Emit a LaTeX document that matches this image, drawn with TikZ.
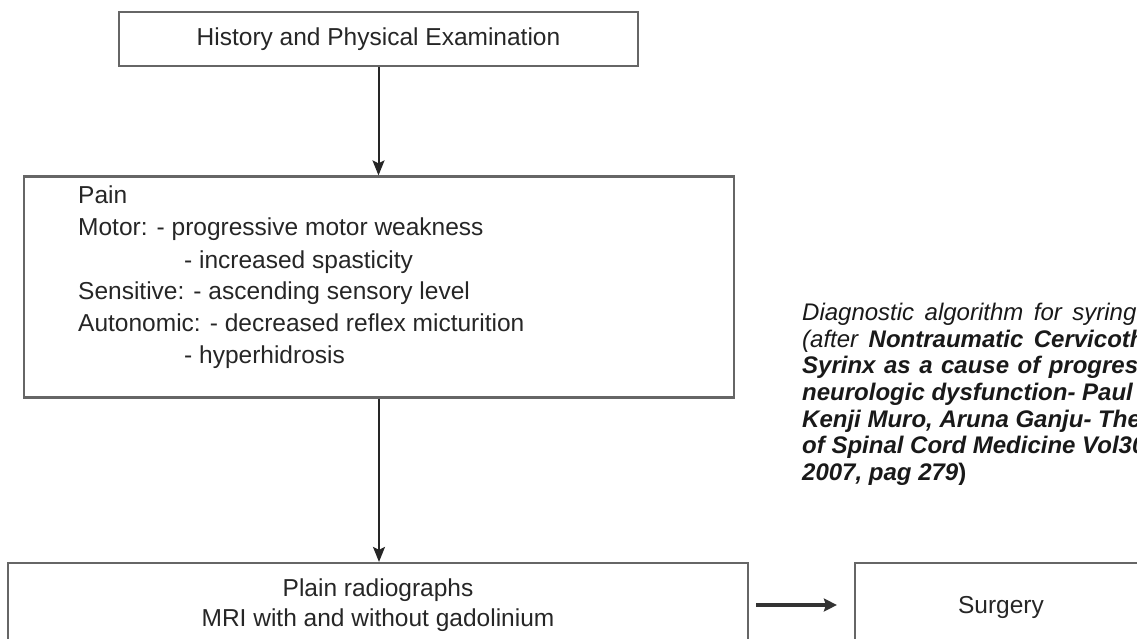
\documentclass[tikz,border=0pt]{standalone}
\usepackage{fontspec}
\setmainfont{Liberation Sans}
\usetikzlibrary{arrows.meta}
\newcommand\wsp{\hspace{10.5pt}}
\newcommand\wspb{\hspace{8.5pt}}
\begin{document}
\begin{tikzpicture}[x=1pt,y=-1pt,
  boxst/.style={draw=black!60, line width=2.2pt, inner sep=0pt},
  txtst/.style={font=\fontsize{24.5pt}{30pt}\selectfont, text=black!85, inner sep=0pt},
  symline/.style={txtst, anchor=west, text height=0.72em, text depth=0.22em},
  captxt/.style={font=\fontsize{24pt}{27pt}\selectfont\itshape, text=black!90, inner sep=0pt, anchor=west, text height=0.72em, text depth=0.22em},
  arrst/.style={draw=black!85, line width=2pt, -{Stealth[length=15pt,width=12pt,inset=3pt]}},
  harrst/.style={draw=black!80, line width=3.5pt, -{Stealth[length=13pt,width=13pt,inset=2pt]}}]
\path[use as bounding box, clip] (0,0) rectangle (1137,639);

% boxes
\node[boxst, txtst, minimum width=519pt, minimum height=54pt] (hist) at (378.5,39) {History and Physical Examination};
\node[boxst, minimum width=710pt, minimum height=221pt] (sympt) at (379,287) {};
\node[boxst, minimum width=740pt, minimum height=84pt] (radio) at (378,605) {};
\node[boxst, minimum width=292pt, minimum height=84pt] (surg) at (1001,605) {};

% symptom lines
\node[symline] (l1) at (78,201) {Pain};
\node[symline] (l2) at (78,233) {Motor: - progressive motor weakness};
\node[symline] (l3) at (184,266) {- increased spasticity};
\node[symline] (l4) at (78,297) {Sensitive: - ascending sensory level};
\node[symline] (l5) at (78,329) {Autonomic: - decreased reflex micturition};
\node[symline] (l6) at (184,361) {- hyperhidrosis};

% bottom texts
\node[txtst, align=center] (radiot) at (378,605) {Plain radiographs\\MRI with and without gadolinium};
\node[txtst] (surgt) at (1001,607) {Surgery};

% caption
\node[captxt] (c1) at (802,318) {Diagnostic\wsp algorithm\wsp for\wsp syring};
\node[captxt] (c2) at (802,345) {(after\wsp\textbf{Nontraumatic\wsp Cervicoth}};
\node[captxt] (c3) at (802,371) {\textbf{Syrinx\wspb as\wspb a\wspb cause\wspb of\wspb progres}};
\node[captxt] (c4) at (802,398) {\textbf{neurologic dysfunction- Paul}};
\node[captxt] (c5) at (802,425) {\textbf{Kenji Muro, Aruna Ganju- The}};
\node[captxt] (c6) at (802,451) {\textbf{of Spinal Cord Medicine Vol30}};
\node[captxt] (c7) at (802,478) {\textbf{2007, pag 279}{\upshape\bfseries )}};

% connectors
\draw[arrst] (hist.south) -- (hist.south |- sympt.north);
\draw[arrst] (sympt.south) -- (sympt.south |- radio.north);
\draw[harrst, shorten <=7pt, shorten >=17pt] (radio.east) -- (surg.west);
\end{tikzpicture}
\end{document}
